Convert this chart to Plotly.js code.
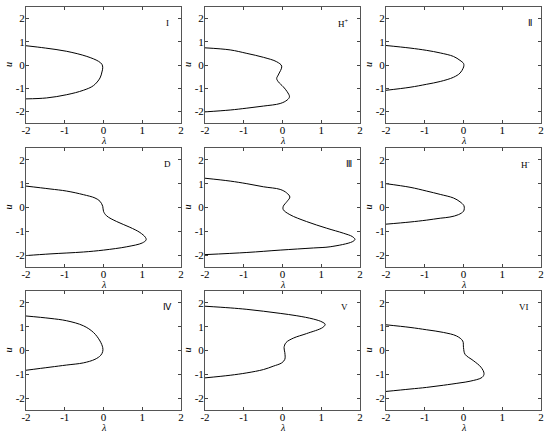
<!DOCTYPE html>
<html>
<head>
<meta charset="utf-8">
<script src="https://cdn.plot.ly/plotly-3.0.1.min.js"></script>
<style>
  html, body { margin: 0; padding: 0; background: #fff; }
  #chart { width: 550px; height: 435px; }
</style>
</head>
<body>
<div id="chart"></div>
<script>
// curves: lambda on x, u on y
const lam_I = [-2, -1.5, -0.95, -0.43, -0.13, -0.04, -0.02, -0.04, -0.09, -0.26, -0.52, -0.95, -1.47, -2];
const u_I   = [0.83, 0.73, 0.59, 0.37, 0.16, 0.03, -0.12, -0.3, -0.56, -0.89, -1.09, -1.28, -1.42, -1.46];

const lam_Hp = [-2, -1.35, -0.92, -0.49, -0.15, -0.02, -0.11, -0.15, -0.11, 0.02, 0.12, 0.18, 0.12, -0.06, -0.49, -0.92, -1.35, -2];
const u_Hp   = [0.74, 0.65, 0.5, 0.33, 0.14, -0.05, -0.43, -0.58, -0.72, -0.94, -1.15, -1.37, -1.51, -1.66, -1.77, -1.86, -1.94, -2.02];

const lam_II = [-2, -1.38, -0.95, -0.6, -0.26, -0.09, 0, 0.01, -0.01, -0.09, -0.26, -0.6, -0.95, -1.38, -2];
const u_II   = [0.84, 0.73, 0.63, 0.52, 0.37, 0.2, 0.07, -0.03, -0.14, -0.35, -0.53, -0.71, -0.83, -0.96, -1.09];

const lam_D = [-2, -1.38, -0.95, -0.52, -0.22, -0.09, -0.02, 0, 0.08, 0.34, 0.68, 0.94, 1.08, 1.1, 1.0, 0.6, 0, -0.52, -1.38, -2];
const u_D   = [0.9, 0.78, 0.69, 0.54, 0.4, 0.26, 0.05, -0.16, -0.35, -0.59, -0.83, -1.05, -1.25, -1.36, -1.49, -1.65, -1.79, -1.87, -1.95, -2.02];

const lam_III = [-2, -1.35, -0.92, -0.49, -0.06, 0.11, 0.19, 0.12, 0.02, 0.02, 0.19, 0.62, 1.14, 1.57, 1.8, 1.87, 1.8, 1.23, 0.8, -0.06, -0.92, -2];
const u_III   = [1.23, 1.11, 1.0, 0.87, 0.76, 0.61, 0.44, 0.26, 0.05, -0.09, -0.3, -0.59, -0.87, -1.08, -1.22, -1.34, -1.44, -1.65, -1.7, -1.79, -1.89, -1.98];

const lam_Hm = [-2, -1.38, -0.95, -0.6, -0.26, -0.09, 0.01, 0.02, 0, -0.13, -0.35, -0.6, -0.95, -1.38, -2];
const u_Hm   = [1.0, 0.85, 0.69, 0.55, 0.4, 0.24, 0.08, -0.05, -0.16, -0.3, -0.4, -0.45, -0.53, -0.61, -0.7];

const lam_IV = [-2, -1.38, -0.95, -0.52, -0.26, -0.09, -0.02, -0.02, -0.07, -0.22, -0.52, -0.95, -1.38, -2];
const u_IV   = [1.45, 1.35, 1.25, 1.04, 0.76, 0.4, 0.12, -0.04, -0.2, -0.37, -0.52, -0.61, -0.7, -0.83];

const lam_V = [-2, -1.35, -0.92, -0.49, -0.06, 0.37, 0.8, 1.02, 1.1, 1.04, 0.62, 0.28, 0.09, 0.04, 0.06, 0.06, -0.02, -0.24, -0.49, -0.92, -1.35, -2];
const u_V   = [1.86, 1.79, 1.73, 1.65, 1.56, 1.46, 1.32, 1.2, 1.1, 0.97, 0.71, 0.52, 0.33, 0.12, -0.09, -0.37, -0.52, -0.66, -0.8, -0.94, -1.04, -1.15];

const lam_VI = [-2, -1.38, -0.95, -0.52, -0.18, -0.02, 0, 0.04, 0.25, 0.45, 0.53, 0.48, 0.17, -0.09, -0.52, -0.95, -1.38, -2];
const u_VI   = [1.08, 0.97, 0.87, 0.76, 0.61, 0.4, 0.12, -0.16, -0.42, -0.7, -0.97, -1.13, -1.29, -1.36, -1.46, -1.55, -1.62, -1.72];

const panelLabels = ['I', 'H<sup>+</sup>', 'Ⅱ', 'D', 'Ⅲ', 'H<sup>-</sup>', 'Ⅳ', 'V', 'VI'];
const labelX = [1.65, 1.58, 1.72, 1.64, 1.72, 1.59, 1.64, 1.61, 1.57];
const tickVals = [-2, -1, 0, 1, 2];
const tickText = ['-2', '-1', '0', '1', '2'];

const curves = [
  [lam_I, u_I], [lam_Hp, u_Hp], [lam_II, u_II],
  [lam_D, u_D], [lam_III, u_III], [lam_Hm, u_Hm],
  [lam_IV, u_IV], [lam_V, u_V], [lam_VI, u_VI]
];

const W = 550, H = 435;
const colPx = [[26, 181], [205, 360], [386, 541]];
const rowPx = [[7, 123], [148, 267], [291, 410]];

const font = { family: 'Liberation Serif, serif', size: 11, color: '#000' };
const titleFont = { family: 'Liberation Serif, serif', size: 10, color: '#000' };

const data = [];
const layout = {
  width: W, height: H,
  margin: { l: 0, r: 0, t: 0, b: 0 },
  showlegend: false,
  paper_bgcolor: '#fff',
  plot_bgcolor: '#fff',
  font: font,
  annotations: []
};

curves.forEach((c, i) => {
  const n = i + 1;
  const sfx = n === 1 ? '' : n;
  const row = Math.floor(i / 3), col = i % 3;
  data.push({
    x: c[0], y: c[1],
    xaxis: 'x' + sfx, yaxis: 'y' + sfx,
    type: 'scatter', mode: 'lines',
    line: { color: '#000', width: 1, shape: 'spline', smoothing: 1 },
    hoverinfo: 'none'
  });

  const common = {
    tickmode: 'array', tickvals: tickVals, ticktext: tickText,
    ticks: 'inside', ticklen: 3, tickcolor: '#444',
    showline: true, linecolor: '#555', linewidth: 1, mirror: 'ticks',
    showgrid: false, zeroline: false,
    tickfont: font
  };
  layout['xaxis' + sfx] = Object.assign({}, common, {
    domain: [colPx[col][0] / W, colPx[col][1] / W],
    range: [-2, 2],
    anchor: 'y' + sfx,
    ticklabelstandoff: -3
  });
  layout['yaxis' + sfx] = Object.assign({}, common, {
    domain: [1 - rowPx[row][1] / H, 1 - rowPx[row][0] / H],
    range: [-2.5, 2.5],
    anchor: 'x' + sfx,
    ticklabelstandoff: -2
  });
  // axis names sit close to the frame, so place them by hand
  layout.annotations.push({
    xref: 'x' + sfx + ' domain', yref: 'y' + sfx + ' domain',
    x: 0.5, y: 0, yanchor: 'middle', yshift: -17,
    text: '<i>λ</i>', showarrow: false, font: titleFont
  });
  layout.annotations.push({
    xref: 'x' + sfx + ' domain', yref: 'y' + sfx + ' domain',
    x: 0, y: 0.5, xanchor: 'center', xshift: -18, textangle: -90,
    text: '<i>u</i>', showarrow: false, font: titleFont
  });
  layout.annotations.push({
    xref: 'x' + sfx, yref: 'y' + sfx,
    x: labelX[i], y: 1.83,
    text: panelLabels[i], showarrow: false,
    font: { family: font.family, size: 9, color: '#000' }
  });
});

Plotly.newPlot('chart', data, layout, { staticPlot: true, displayModeBar: false });
</script>
</body>
</html>
